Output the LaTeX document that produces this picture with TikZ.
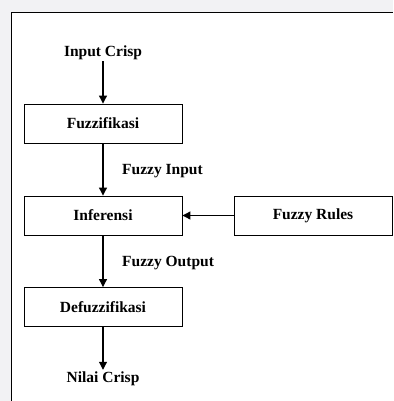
\documentclass[tikz,border=0pt]{standalone}
\usepackage{fontspec}
\setmainfont{Liberation Serif}
\usetikzlibrary{arrows.meta}
\definecolor{bggrey}{HTML}{F2F2F4}
\tikzset{
  x=1pt,y=1pt,
  procbox/.style={draw=black,line width=0.9pt,minimum width=158pt,minimum height=39pt,inner sep=0pt,font=\fontsize{15.5}{18}\selectfont\bfseries},
  lbl/.style={inner sep=1pt,font=\fontsize{15.5}{18}\selectfont\bfseries},
  flow/.style={line width=1.1pt,-{Triangle[width=8pt,length=8pt]}}
}
\begin{document}
\begin{tikzpicture}
\useasboundingbox (0,0) rectangle (393,-401);
\fill[bggrey] (0,0) rectangle (393,-401);
\fill[white] (11.5,-12.5) rectangle (393,-401);
\draw[line width=1.5pt] (11.5,-401) -- (11.5,-12.5) -- (393,-12.5);
\node[lbl] (incrisp) at (103,-53) {Input Crisp};
\node[procbox] (fuzz) at (103,-123.5) {Fuzzifikasi};
\node[lbl,anchor=west] (fin) at (121,-171) {Fuzzy Input};
\node[procbox] (inf) at (103,-215.5) {Inferensi};
\node[procbox] (rules) at (313,-215.5) {Fuzzy Rules};
\node[lbl,anchor=west] (fout) at (121,-263) {Fuzzy Output};
\node[procbox] (defuzz) at (103,-307) {Defuzzifikasi};
\node[lbl] (nilai) at (103,-379) {Nilai Crisp};
\draw[flow] (incrisp) -- (fuzz);
\draw[flow] (fuzz) -- (inf);
\draw[flow] (rules) -- (inf);
\draw[flow] (inf) -- (defuzz);
\draw[flow,shorten >=1pt] (defuzz) -- (nilai);
\end{tikzpicture}
\end{document}
